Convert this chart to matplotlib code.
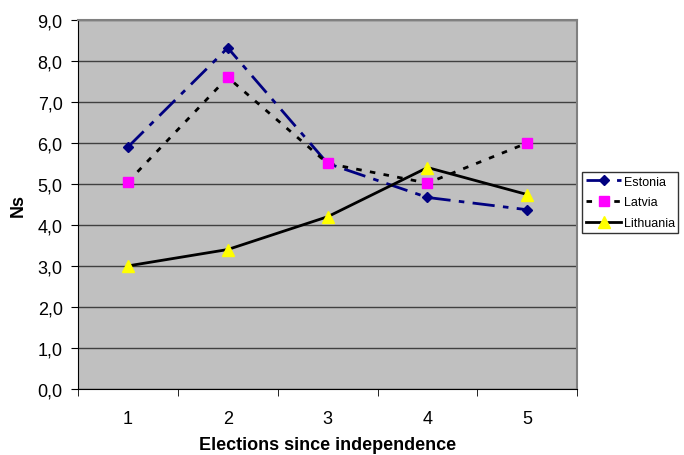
import matplotlib.pyplot as plt
from matplotlib.ticker import FixedLocator, FuncFormatter

plt.rcParams['font.family'] = ['Liberation Sans', 'DejaVu Sans']

elections = [1, 2, 3, 4, 5]
estonia = [5.9, 8.32, 5.5, 4.67, 4.37]
latvia = [5.05, 7.6, 5.5, 5.02, 6.0]
lithuania = [3.0, 3.4, 4.2, 5.4, 4.74]

fig = plt.figure(figsize=(6.84, 4.56), dpi=100)
ax = fig.add_axes([0.114, 0.145, 0.730, 0.809])
ax.set_facecolor('#C0C0C0')

ax.plot(elections, estonia, color='#000080', linewidth=2, dashes=(8, 3, 2, 3),
        marker='D', markersize=5, label='Estonia')
ax.plot(elections, latvia, color='black', linewidth=2, dashes=(2, 3),
        marker='s', markersize=7, markerfacecolor='#FF00FF', markeredgecolor='#FF00FF',
        label='Latvia')
ax.plot(elections, lithuania, color='black', linewidth=2,
        marker='^', markersize=8, markerfacecolor='#FFFF00', markeredgecolor='#FFFF00',
        label='Lithuania')

ax.set_xlim(0.5, 5.5)
ax.set_ylim(0, 9)
ax.set_yticks(range(0, 10))
ax.yaxis.set_major_formatter(FuncFormatter(lambda v, p: f'{v:.1f}'.replace('.', ',')))
ax.set_xticks(elections)
ax.xaxis.set_minor_locator(FixedLocator([0.5, 1.5, 2.5, 3.5, 4.5, 5.5]))
ax.tick_params(axis='x', which='major', length=0, pad=15, labelsize=13)
ax.tick_params(axis='x', which='minor', length=5, direction='out')
ax.tick_params(axis='y', length=5, direction='out', labelsize=13, pad=6)

ax.grid(axis='y', color='#404040', linewidth=1)
ax.set_axisbelow(True)
for side in ('top', 'right'):
    ax.spines[side].set_color('#808080')
    ax.spines[side].set_linewidth(1.5)
for side in ('left', 'bottom'):
    ax.spines[side].set_color('black')

ax.set_xlabel('Elections since independence', fontweight='bold', fontsize=13, labelpad=7)
ax.set_ylabel('Ns', fontweight='bold', fontsize=13, labelpad=8)

leg = ax.legend(loc='upper left', bbox_to_anchor=(1.01, 0.588), fontsize=9,
                frameon=True, fancybox=False, edgecolor='black', borderpad=0.3,
                labelspacing=0.7, handlelength=2.8, handletextpad=0.2, borderaxespad=0)
leg.get_frame().set_linewidth(1)

fig.savefig('out.png', dpi=100)
